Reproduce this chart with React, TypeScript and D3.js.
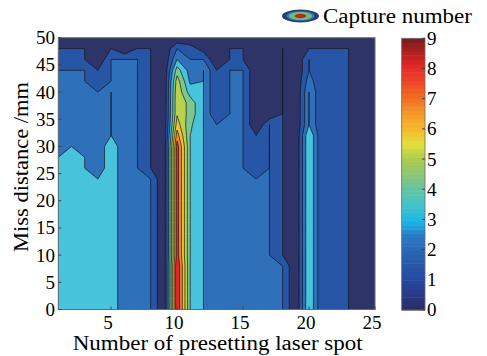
import React, { useEffect, useRef } from "react";
import * as d3 from "d3";

// grid positions (x = laser spot number, y = miss distance in mm, top row first)
const spotNumbers = [1, 2, 3, 4, 5, 6, 7, 8, 9, 10, 11, 12, 13, 14, 15, 16, 17, 18, 19, 20, 21, 22, 23, 24, 25];
const missDistances = [50, 48, 46, 44, 42, 40, 38, 36, 34, 32, 30, 28, 26, 24, 22, 20, 18, 16, 14, 12, 10, 8, 6, 4, 2, 0];

// capture number, one row per miss distance
const lowRow = [3, 3, 3, 3, 4, 2, 2, 2, 0, 8.5, 4, 3, 2, 2, 2, 2, 2, 1, 0, 4, 1, 2, 1, 0, 0];
const baseRow = [3, 3, 3, 3, 4, 2, 2, 2, 0, 9, 4, 3, 2, 2, 3, 2, 2, 2, 0, 4, 1, 2, 1, 0, 0];
const captureGrid = [
  [0, 0, 0, 0, 0, 0, 0, 0, 0, 0, 0, 0, 0, 0, 0, 0, 0, 0, 0, 0, 0, 0, 0, 0, 0],
  [1, 1, 1, 0, 1, 0, 1, 1, 0, 2, 1.5, 0.5, 0, 1, 1, 0, 0, 1, 0, 1, 1, 1, 1, 0, 0],
  [1, 1, 1, 0, 2, 2, 2, 1, 0, 3, 2, 2, 0, 1, 1, 0, 0, 1, 0, 2, 1, 1, 1, 0, 0],
  [2, 2, 2, 1, 2, 2, 2, 1, 0, 4.5, 2.5, 3, 1, 2, 2, 0, 0, 1, 0, 2, 1, 1, 1, 0, 0],
  [2, 2, 2, 1, 2, 2, 2, 1, 0, 5.5, 2.8, 3, 1, 2, 2, 0, 0, 1, 0, 2.5, 1, 1, 1, 0, 0],
  [2, 2, 2, 2, 3, 2, 2, 1, 0, 5.8, 3.5, 3, 1, 2, 2, 0, 0, 1, 0, 3, 1, 1, 1, 0, 0],
  [2, 2, 2, 2, 3, 2, 2, 1, 0, 5.9, 4.6, 3, 1, 2, 2, 0, 0, 1, 0, 3, 1, 2, 1, 0, 0],
  [2, 2, 2, 2, 3, 2, 2, 1, 0, 5.9, 4.6, 3, 1, 2, 2, 0, 0, 1, 0, 3, 1, 2, 1, 0, 0],
  [2, 2, 2, 2, 3, 2, 2, 1, 0, 6.5, 4.2, 3, 2, 2, 2, 0, 2, 1, 0, 3, 1, 2, 1, 0, 0],
  [2, 2, 2, 2, 3, 2, 2, 1, 0, 7.5, 4, 3, 2, 2, 2, 1, 2, 1, 0, 4, 1, 2, 1, 0, 0],
  [2, 3, 2, 2, 4, 2, 2, 1, 0, 8.5, 4, 3, 2, 2, 2, 1, 2, 1, 0, 4, 1, 2, 1, 0, 0],
  [3, 3, 3, 2, 4, 2, 2, 1, 0, 8.5, 4, 3, 2, 2, 2, 1, 2, 1, 0, 4, 1, 2, 1, 0, 0],
  [3, 3, 3, 2, 4, 2, 2, 1, 0, 8.5, 4, 3, 2, 2, 2, 1, 2, 1, 0, 4, 1, 2, 1, 0, 0],
  lowRow, lowRow, lowRow, lowRow, lowRow, lowRow, lowRow, lowRow,
  baseRow, baseRow, baseRow, baseRow, baseRow,
];

const levels = [1, 2, 3, 4, 5, 6, 7, 8, 9];
const bandColors = ["#2e3368", "#2756a6", "#2e70ba", "#47c3dc", "#7cc78e", "#b8d24e", "#f2c232", "#f5862a", "#e3292a", "#8e1b1e"];

// colour bar
const cbStops = [0, 0.5, 1, 1.5, 2, 2.5, 2.8, 3, 3.5, 4, 4.5, 5, 5.5, 6, 6.5, 7, 7.5, 8, 8.5, 9];
const cbColors = ["#2b2d62", "#2a3a85", "#2548a0", "#2758a8", "#2a67b5", "#2a7cc7", "#1fa7e0", "#1fb7e6", "#45c3c8", "#64c3a3", "#8dc776", "#aacb4f", "#e3e03a", "#f5b82d", "#f59a2a", "#f26f22", "#ee4c25", "#e72b28", "#b52222", "#7a1c1f"];
const cbTicks = [0, 1, 2, 3, 4, 5, 6, 7, 8, 9];

const xTicks = [5, 10, 15, 20, 25];
const yTicks = [0, 5, 10, 15, 20, 25, 30, 35, 40, 45, 50];

const ContourChart = () => {
  const ref = useRef();

  useEffect(() => {
    d3.select(ref.current).selectAll("*").remove();

    const width = 487;
    const height = 356;
    const plot = { left: 58.3, right: 375, top: 37.7, bottom: 309.5 };
    const font = "Liberation Serif, DejaVu Serif, serif";

    const svg = d3
      .select(ref.current)
      .append("svg")
      .attr("width", width)
      .attr("height", height)
      .attr("font-family", font)
      .style("display", "block");

    const x = d3.scaleLinear().domain([1, 25]).range([plot.left, plot.right]);
    const y = d3.scaleLinear().domain([0, 50]).range([plot.bottom, plot.top]);

    // contours on the grid, grid point i sits at i + 0.5 in d3 coordinates
    const nx = spotNumbers.length;
    const ny = missDistances.length;
    const stepX = spotNumbers[1] - spotNumbers[0];
    const stepY = missDistances[1] - missDistances[0];
    const bands = d3.contours().size([nx, ny]).thresholds(levels)(captureGrid.flat());

    const toScreen = d3.geoTransform({
      point: function (px, py) {
        this.stream.point(
          x(spotNumbers[0] + (px - 0.5) * stepX),
          y(missDistances[0] + (py - 0.5) * stepY)
        );
      },
    });
    const path = d3.geoPath(toScreen);

    svg
      .append("clipPath")
      .attr("id", "plotClip")
      .append("rect")
      .attr("x", plot.left)
      .attr("y", plot.top)
      .attr("width", plot.right - plot.left)
      .attr("height", plot.bottom - plot.top);

    const g = svg.append("g").attr("clip-path", "url(#plotClip)");
    g.append("rect")
      .attr("x", plot.left)
      .attr("y", plot.top)
      .attr("width", plot.right - plot.left)
      .attr("height", plot.bottom - plot.top)
      .attr("fill", bandColors[0]);

    g.selectAll("path")
      .data(bands)
      .enter()
      .append("path")
      .attr("d", path)
      .attr("fill", (d) => bandColors[levels.indexOf(d.value) + 1])
      .attr("stroke", "#15151f")
      .attr("stroke-width", 0.7)
      .attr("stroke-linejoin", "round");

    // axes box and inward ticks
    svg
      .append("rect")
      .attr("x", plot.left)
      .attr("y", plot.top)
      .attr("width", plot.right - plot.left)
      .attr("height", plot.bottom - plot.top)
      .attr("fill", "none")
      .attr("stroke", "#6a6a6a")
      .attr("stroke-width", 1);

    svg
      .selectAll(".ytick")
      .data(yTicks)
      .enter()
      .append("line")
      .attr("x1", plot.left)
      .attr("x2", plot.left + 3)
      .attr("y1", (d) => y(d))
      .attr("y2", (d) => y(d))
      .attr("stroke", "#444");

    svg
      .selectAll(".xtick")
      .data(xTicks)
      .enter()
      .append("line")
      .attr("x1", (d) => x(d))
      .attr("x2", (d) => x(d))
      .attr("y1", plot.bottom)
      .attr("y2", plot.bottom - 3)
      .attr("stroke", "#444");

    svg
      .selectAll(".ylab")
      .data(yTicks)
      .enter()
      .append("text")
      .attr("x", 55)
      .attr("y", (d) => y(d))
      .attr("dy", "0.34em")
      .attr("text-anchor", "end")
      .attr("font-size", 19)
      .text((d) => d);

    svg
      .selectAll(".xlab")
      .data(xTicks)
      .enter()
      .append("text")
      .attr("x", (d) => x(d) - 3)
      .attr("y", 329)
      .attr("text-anchor", "middle")
      .attr("font-size", 19)
      .text((d) => d);

    svg
      .append("text")
      .attr("x", 72.7)
      .attr("y", 350)
      .attr("textLength", 290)
      .attr("lengthAdjust", "spacingAndGlyphs")
      .attr("font-size", 20)
      .text("Number of presetting laser spot");

    svg
      .append("text")
      .attr("transform", "translate(28,252) rotate(-90)")
      .attr("textLength", 170)
      .attr("lengthAdjust", "spacingAndGlyphs")
      .attr("font-size", 20)
      .text("Miss distance /mm");

    // colour bar
    const cb = { left: 401.7, right: 425, top: 38.3, bottom: 310 };
    const cbY = d3.scaleLinear().domain([0, 9]).range([cb.bottom, cb.top]);
    const cbColor = d3.scaleLinear().domain(cbStops).range(cbColors);
    const steps = d3.range(64).map((i) => (i * 9) / 64);
    svg
      .selectAll(".cbcell")
      .data(steps)
      .enter()
      .append("rect")
      .attr("x", cb.left)
      .attr("width", cb.right - cb.left)
      .attr("y", (d) => cbY(d + 9 / 64))
      .attr("height", cbY(0) - cbY(9 / 64) + 0.5)
      .attr("fill", (d) => cbColor(d + 4.5 / 64));

    svg
      .append("rect")
      .attr("x", cb.left)
      .attr("y", cb.top)
      .attr("width", cb.right - cb.left)
      .attr("height", cb.bottom - cb.top)
      .attr("fill", "none")
      .attr("stroke", "#6a6a6a")
      .attr("stroke-width", 0.8);

    svg
      .selectAll(".cbtick")
      .data(cbTicks)
      .enter()
      .append("line")
      .attr("x1", cb.right - 3)
      .attr("x2", cb.right)
      .attr("y1", (d) => cbY(d))
      .attr("y2", (d) => cbY(d))
      .attr("stroke", "#444");

    svg
      .selectAll(".cblab")
      .data(cbTicks)
      .enter()
      .append("text")
      .attr("x", 427)
      .attr("y", (d) => cbY(d))
      .attr("dy", "0.34em")
      .attr("font-size", 19)
      .text((d) => d);

    // legend
    const lg = svg.append("g").attr("transform", "translate(300.5,16)");
    lg.append("ellipse").attr("rx", 18.5).attr("ry", 6.5).attr("fill", "#2b3a7a");
    lg.append("ellipse").attr("rx", 14).attr("ry", 4.8).attr("fill", "#3a78c0");
    lg.append("ellipse").attr("rx", 11.5).attr("ry", 4).attr("fill", "#6cc46e");
    lg.append("ellipse").attr("rx", 6).attr("ry", 2.2).attr("fill", "#b8262a");

    svg
      .append("text")
      .attr("x", 323)
      .attr("y", 22.5)
      .attr("textLength", 149)
      .attr("lengthAdjust", "spacingAndGlyphs")
      .attr("font-size", 20)
      .text("Capture number");
  }, []);

  return <div ref={ref}></div>;
};

const App = () => {
  return (
    <div style={{ position: "absolute", left: 0, top: 0, background: "#fff" }}>
      <ContourChart />
    </div>
  );
};

export default App;
